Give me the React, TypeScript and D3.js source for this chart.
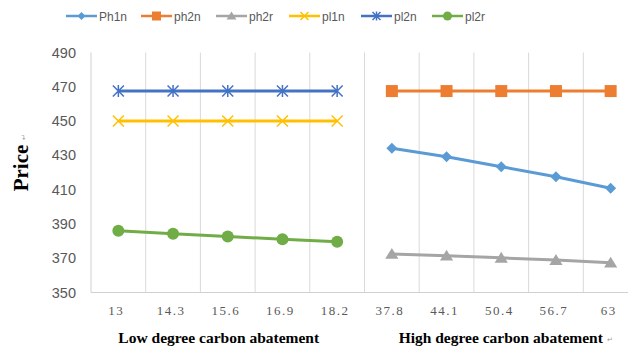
import React from "react";
import * as d3 from "d3";

const categories = ["13", "14.3", "15.6", "16.9", "18.2", "37.8", "44.1", "50.4", "56.7", "63"];
const yTicks = [350, 370, 390, 410, 430, 450, 470, 490];
const groupLabels = ["Low degree carbon abatement", "High degree carbon abatement"];

// left group (indices 0-4)
const pl1n = [450, 450, 450, 450, 450];
const pl2n = [467.5, 467.5, 467.5, 467.5, 467.5];
const pl2r = [386, 384.3, 382.7, 381, 379.6];
// right group (indices 5-9)
const ph1n = [434.1, 429.2, 423.4, 417.5, 410.8];
const ph2n = [467.5, 467.5, 467.5, 467.5, 467.5];
const ph2r = [372.5, 371.4, 370.2, 368.9, 367.4];

type Series = { name: string; color: string; marker: string; values: number[]; offset: number };
const series: Series[] = [
  { name: "Ph1n", color: "#5B9BD5", marker: "diamond", values: ph1n, offset: 5 },
  { name: "ph2n", color: "#ED7D31", marker: "square", values: ph2n, offset: 5 },
  { name: "ph2r", color: "#A5A5A5", marker: "triangle", values: ph2r, offset: 5 },
  { name: "pl1n", color: "#FFC000", marker: "x", values: pl1n, offset: 0 },
  { name: "pl2n", color: "#4472C4", marker: "star", values: pl2n, offset: 0 },
  { name: "pl2r", color: "#70AD47", marker: "circle", values: pl2r, offset: 0 },
];

const W = 628;
const H = 349;
const plot = { left: 91, right: 638, top: 52.5, bottom: 292.5 };

function Marker({ type, x, y, color, s }: { type: string; x: number; y: number; color: string; s: number }) {
  switch (type) {
    case "diamond":
      return <path d={`M${x},${y - s}L${x + s},${y}L${x},${y + s}L${x - s},${y}Z`} fill={color} />;
    case "square":
      return <rect x={x - s} y={y - s} width={2 * s} height={2 * s} fill={color} />;
    case "triangle":
      return <path d={`M${x},${y - s}L${x + s * 1.1},${y + s * 0.8}L${x - s * 1.1},${y + s * 0.8}Z`} fill={color} />;
    case "circle":
      return <circle cx={x} cy={y} r={s} fill={color} />;
    case "x":
      return (
        <path
          d={`M${x - s},${y - s}L${x + s},${y + s}M${x - s},${y + s}L${x + s},${y - s}`}
          stroke={color}
          strokeWidth={1.5}
        />
      );
    case "star":
      return (
        <path
          d={`M${x - s},${y - s}L${x + s},${y + s}M${x - s},${y + s}L${x + s},${y - s}M${x},${y - s * 1.1}L${x},${y + s * 1.1}`}
          stroke={color}
          strokeWidth={1.5}
        />
      );
    default:
      return null;
  }
}

const markerSize: Record<string, number> = { diamond: 5.5, square: 6, triangle: 6, circle: 6, x: 5.5, star: 5.5 };
const legendMarkerSize: Record<string, number> = { diamond: 4, square: 4.5, triangle: 4.5, circle: 4.5, x: 4, star: 4 };

export default function App() {
  const x = d3.scaleBand<string>().domain(categories).range([plot.left, plot.right]).padding(0);
  const y = d3.scaleLinear().domain([350, 490]).range([plot.bottom, plot.top]);
  const cx = (i: number) => (x(categories[i]) as number) + x.bandwidth() / 2;
  const line = d3
    .line<[number, number]>()
    .x((d) => d[0])
    .y((d) => d[1]);

  const legendX = [66, 141, 216, 289, 361, 432];

  return (
    <svg width={W} height={H} style={{ position: "absolute", left: 0, top: 0, background: "#fff" }}>
      {/* vertical grid lines */}
      {categories.map((c, i) => (
        <line
          key={c}
          x1={(x(c) as number)}
          x2={(x(c) as number)}
          y1={plot.top}
          y2={plot.bottom}
          stroke={i === 0 ? "#D0D0D0" : "#D9D9D9"}
          strokeWidth={1}
        />
      ))}
      <line x1={plot.left} x2={plot.right} y1={plot.bottom} y2={plot.bottom} stroke="#D0D0D0" strokeWidth={1} />

      {/* y ticks */}
      {yTicks.map((t) => (
        <text
          key={t}
          x={76}
          y={y(t) + 5}
          textAnchor="end"
          fontFamily="'Liberation Sans', Arial, sans-serif"
          fontSize={14.5}
          fill="#595959"
        >
          {t}
        </text>
      ))}

      {/* x ticks */}
      {categories.map((c, i) => (
        <text
          key={c}
          x={cx(i) - 2}
          y={315}
          textAnchor="middle"
          fontFamily="'Liberation Serif', 'Times New Roman', serif"
          fontSize={13}
          letterSpacing={1.5}
          fill="#595959"
        >
          {c}
        </text>
      ))}

      {/* group labels */}
      <text
        x={(cx(0) + cx(4)) / 2 - 9}
        y={342.5}
        textAnchor="middle"
        fontFamily="'Liberation Serif', 'Times New Roman', serif"
        fontWeight="bold"
        fontSize={15.5}
        fill="#000"
      >
        {groupLabels[0]}
      </text>
      <text
        x={(cx(5) + cx(9)) / 2 - 0.5}
        y={342.5}
        textAnchor="middle"
        fontFamily="'Liberation Serif', 'Times New Roman', serif"
        fontWeight="bold"
        fontSize={15.5}
        fill="#000"
      >
        {groupLabels[1]}
      </text>
      <text x={607} y={342} fontFamily="'DejaVu Sans', sans-serif" fontSize={7} fill="#999">
        ↵
      </text>

      {/* y title */}
      <g transform="translate(28,168) rotate(-90)">
        <text
          x={0}
          y={0}
          textAnchor="middle"
          fontFamily="'Liberation Serif', 'Times New Roman', serif"
          fontWeight="bold"
          fontSize={21}
          fill="#000"
        >
          Price
        </text>
        <text x={28} y={-2} fontFamily="'DejaVu Sans', sans-serif" fontSize={7} fill="#999">
          ↵
        </text>
      </g>

      {/* series */}
      {series.map((s) => {
        const pts: [number, number][] = s.values.map((v, i) => [cx(i + s.offset), y(v)]);
        return (
          <g key={s.name}>
            <path d={line(pts) as string} fill="none" stroke={s.color} strokeWidth={3} strokeLinejoin="round" />
            {pts.map((p, i) => (
              <Marker key={i} type={s.marker} x={p[0]} y={p[1]} color={s.color} s={markerSize[s.marker]} />
            ))}
          </g>
        );
      })}

      {/* legend */}
      {series.map((s, i) => {
        const lx = legendX[i];
        return (
          <g key={s.name}>
            <line x1={lx} x2={lx + 31} y1={16} y2={16} stroke={s.color} strokeWidth={2.5} />
            <Marker type={s.marker} x={lx + 15.5} y={16} color={s.color} s={legendMarkerSize[s.marker]} />
            <text
              x={lx + 33}
              y={20.5}
              fontFamily="'Liberation Sans', Arial, sans-serif"
              fontSize={12}
              fill="#595959"
            >
              {s.name}
            </text>
          </g>
        );
      })}
    </svg>
  );
}
